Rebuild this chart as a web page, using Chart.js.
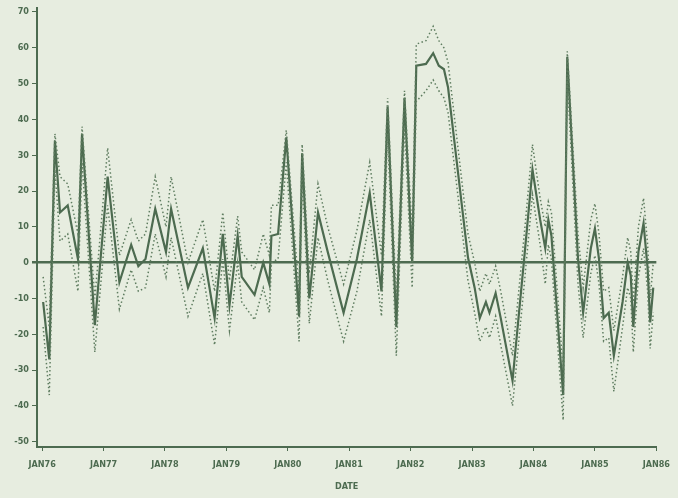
<!DOCTYPE html>
<html>
<head>
<meta charset="utf-8">
<script src="https://cdn.jsdelivr.net/npm/chart.js@4"></script>
<style>
  html, body { margin: 0; padding: 0; background: #e7ede0; }
  #wrap { width: 678px; height: 498px; }
</style>
</head>
<body>
<div id="wrap"><canvas id="c" width="678" height="498"></canvas></div>
<script>
// Months since JAN76 (x positions of the vertices)
const months = [0.2, 1.4, 2.5, 3.5, 5.0, 7.0, 7.8, 10.3, 12.8, 15.1, 17.4, 18.8, 20.2, 22.1, 24.2, 25.2, 28.5, 31.4, 33.7, 35.3,
  36.6, 38.2, 39.0, 41.5, 43.2, 44.4, 44.8, 46.1, 47.7, 50.2, 50.8, 52.2, 53.9, 55.8, 58.9, 61.5, 64.0, 66.3, 67.5, 69.2,
  70.8, 72.3, 73.1, 75.0, 76.4, 77.5, 78.5, 79.3, 83.2, 84.5, 85.5, 86.7, 87.4, 88.6, 89.6, 91.9, 94.2, 95.8, 97.3, 98.3,
  98.9, 99.5, 101.8, 102.6, 104.7, 105.7, 107.2, 108.0, 108.8, 109.7, 110.7, 111.7, 113.4, 114.4, 115.0, 115.5, 116.5, 117.5, 118.3, 118.8,
  119.4];
// Estimated series (solid)
const estimate = [-11, -27, 34, 14, 16, 1, 36, -17.5, 24, -5.5, 5, -1, 1, 15, 3, 15, -7, 4, -15.5, 8,
  -12, 7.5, -4, -9, 0, -6, 7.5, 8, 35, -15, 30.5, -10, 14, 3, -14, 1, 19.5, -8, 43.6, -18,
  46, 0, 55, 55.5, 58.5, 55, 54, 49, 1.4, -7, -15.5, -11, -14, -8.5, -15.5, -33, 1.4, 26, 12, 4,
  12, 7.5, -37, 57.5, 1, -14, 4, 9.5, 1, -15.5, -14, -26, -11, 0, -3.6, -18, 3, 11, -1.7, -16.7,
  -7];
// Upper band (dotted)
const upper = [-4, -18, 36, 24, 22, 8, 38, -10, 32, 2, 12, 6, 8, 24, 10, 24, 0, 12, -8, 14,
  -5, 13, 3, -2, 8, 2, 16, 16, 37, -8, 33, -3, 22, 10, -6, 9, 28, 2, 46, -10,
  48, 8, 61, 62, 66, 62, 60, 56, 8, 0, -8, -3, -6, -1, -8, -26, 8, 33, 18, 10,
  17, 14, -30, 59, 8, -7, 12, 16.5, 8, -8, -7, -19, -4, 7, 3, -11, 10, 18, 5, -10,
  0];
// Lower band (dotted)
const lower = [-18, -37, 26, 6, 8, -8, 28, -25, 16, -13, -2, -8, -7, 8, -4, 7, -15, -3, -23, 1,
  -19, 0, -11, -16, -7, -14, 0, 1, 28, -22, 24, -17, 7, -5, -22, -8, 12, -15, 36, -26,
  38, -7, 45, 48, 51, 48, 46, 42, -5, -14, -22, -18, -21, -15, -23, -40, -6, 19, 5, -6,
  5, 1, -44, 52, -6, -21, -3, 2, -6, -22, -21, -36, -18, -7, -10, -25, -4, 4, -8, -24,
  -14];
// Axis ticks
const xTickMonths = [0, 12, 24, 36, 48, 60, 72, 84, 96, 108, 120];
const xTickLabels = ['JAN76', 'JAN77', 'JAN78', 'JAN79', 'JAN80', 'JAN81', 'JAN82', 'JAN83', 'JAN84', 'JAN85', 'JAN86'];
const yTicks = [-50, -40, -30, -20, -10, 0, 10, 20, 30, 40, 50, 60, 70];

const ink = '#4d6b50';
const dotInk = '#5f7d60';
const bg = '#e7ede0';

const toPts = (vals) => months.map((m, i) => ({ x: m, y: vals[i] }));
const font = { family: "'Liberation Sans Narrow', 'DejaVu Sans Condensed', sans-serif", size: 9, weight: 'bold' };

const bgPlugin = {
  id: 'bg',
  beforeDraw(chart) {
    const ctx = chart.ctx;
    ctx.save();
    ctx.fillStyle = bg;
    ctx.fillRect(0, 0, chart.width, chart.height);
    ctx.restore();
  }
};

new Chart(document.getElementById('c'), {
  type: 'line',
  data: {
    datasets: [
      { data: toPts(upper), borderColor: dotInk, borderWidth: 1.5, borderDash: [1.5, 2.5], pointRadius: 0, tension: 0, fill: false },
      { data: toPts(lower), borderColor: dotInk, borderWidth: 1.5, borderDash: [1.5, 2.5], pointRadius: 0, tension: 0, fill: false },
      { data: toPts(estimate), borderColor: ink, borderWidth: 2.2, pointRadius: 0, tension: 0, fill: false }
    ]
  },
  options: {
    responsive: false,
    animation: false,
    layout: { padding: { top: 6, right: 15, left: 0, bottom: 0 } },
    plugins: { legend: { display: false }, tooltip: { enabled: false } },
    scales: {
      x: {
        type: 'linear',
        min: -1,
        max: 120,
        afterBuildTicks(scale) { scale.ticks = xTickMonths.map(v => ({ value: v })); },
        afterFit(scale) { scale.height = 51; },
        border: { color: ink, width: 2 },
        grid: { drawOnChartArea: false, drawTicks: true, tickLength: 4, color: ink, tickColor: ink },
        ticks: {
          color: ink, font, padding: 8, maxRotation: 0, autoSkip: false,
          callback: (v) => { const i = xTickMonths.indexOf(v); return i >= 0 ? xTickLabels[i] : ''; }
        },
        title: { display: true, text: 'DATE', color: ink, font, padding: { top: 4, bottom: 6 } }
      },
      y: {
        type: 'linear',
        min: -51.5,
        max: 71,
        afterBuildTicks(scale) { scale.ticks = yTicks.map(v => ({ value: v })); },
        afterFit(scale) { scale.width = 37; },
        border: { color: ink, width: 2 },
        grid: {
          drawOnChartArea: true, drawTicks: true, tickLength: 5,
          color: (c) => (c.tick && c.tick.value === 0) ? ink : 'rgba(0,0,0,0)',
          lineWidth: (c) => (c.tick && c.tick.value === 0) ? 2.5 : 1,
          tickColor: ink
        },
        ticks: { color: ink, font, padding: 3 }
      }
    }
  },
  plugins: [bgPlugin]
});
</script>
</body>
</html>
